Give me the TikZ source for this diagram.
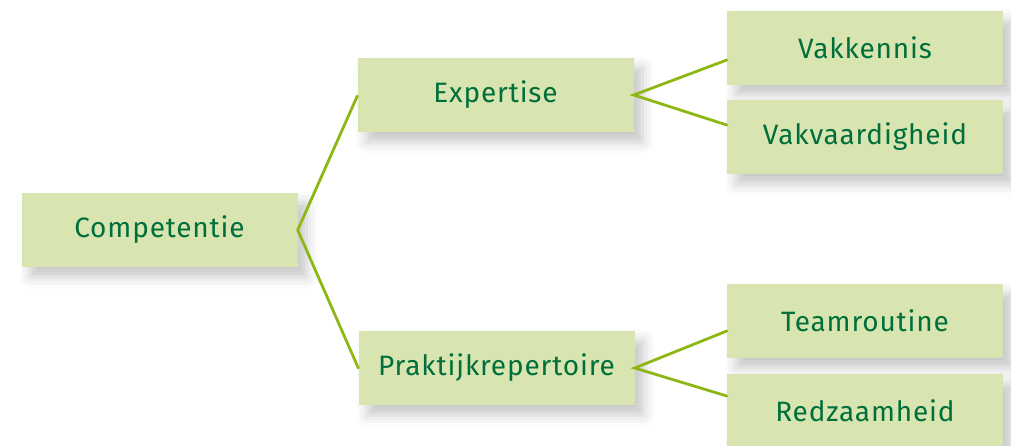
\documentclass[tikz,border=0pt]{standalone}
\usepackage{fontspec}
\setmainfont[LetterSpace=3]{Fira Sans}
\usepackage{xcolor}
\usetikzlibrary{calc,shadows.blur}
\definecolor{boxfill}{HTML}{D9E5B0}
\definecolor{boxtext}{HTML}{006F3C}
\definecolor{branch}{HTML}{8DB814}
\tikzset{
	blok/.style={
			fill=boxfill, text=boxtext, inner sep=0pt,
			minimum width=276pt, minimum height=74pt,
			font=\fontsize{28}{32}\selectfont,
			blur shadow={shadow xshift=9pt, shadow yshift=-10pt,
					shadow blur radius=11pt, shadow opacity=22}
		},
	tak/.style={draw=branch, line width=2.8pt, line cap=round}
}

\begin{document}
\begin{tikzpicture}[x=1pt, y=1pt]
    \useasboundingbox (0,0) rectangle (1011,-445);

    \coordinate (C0) at (159.5,-230);
    \coordinate (E0) at (495.5,-95);
    \coordinate (P0) at (496.5,-368);
    \coordinate (V1) at (865,-48);
    \coordinate (V2) at (865,-137);
    \coordinate (T1) at (865,-321);
    \coordinate (T2) at (865,-411);

    \node[blok] (vakk) at (V1) {Vakkennis};
    \node[blok] (vakv) at (V2) {Vakvaardigheid};
    \node[blok] (exp)  at (E0) {Expertise};
    \node[blok] (comp) at (C0) {Competentie};
    \node[blok] (team) at (T1) {Teamroutine};
    \node[blok] (prak) at (P0) {Praktijkrepertoire};
    \node[blok] (redz) at (T2) {Redzaamheid};

    \draw[tak] ([yshift=-1pt]exp.west) -- (comp.east) -- (prak.west);
    \draw[tak] ([yshift=-12pt]vakk.west) -- (exp.east) -- ([yshift=12pt]vakv.west);
    \draw[tak] ([yshift=-10pt]team.west) -- (prak.east) -- ([yshift=15pt]redz.west);
\end{tikzpicture}
\end{document}
